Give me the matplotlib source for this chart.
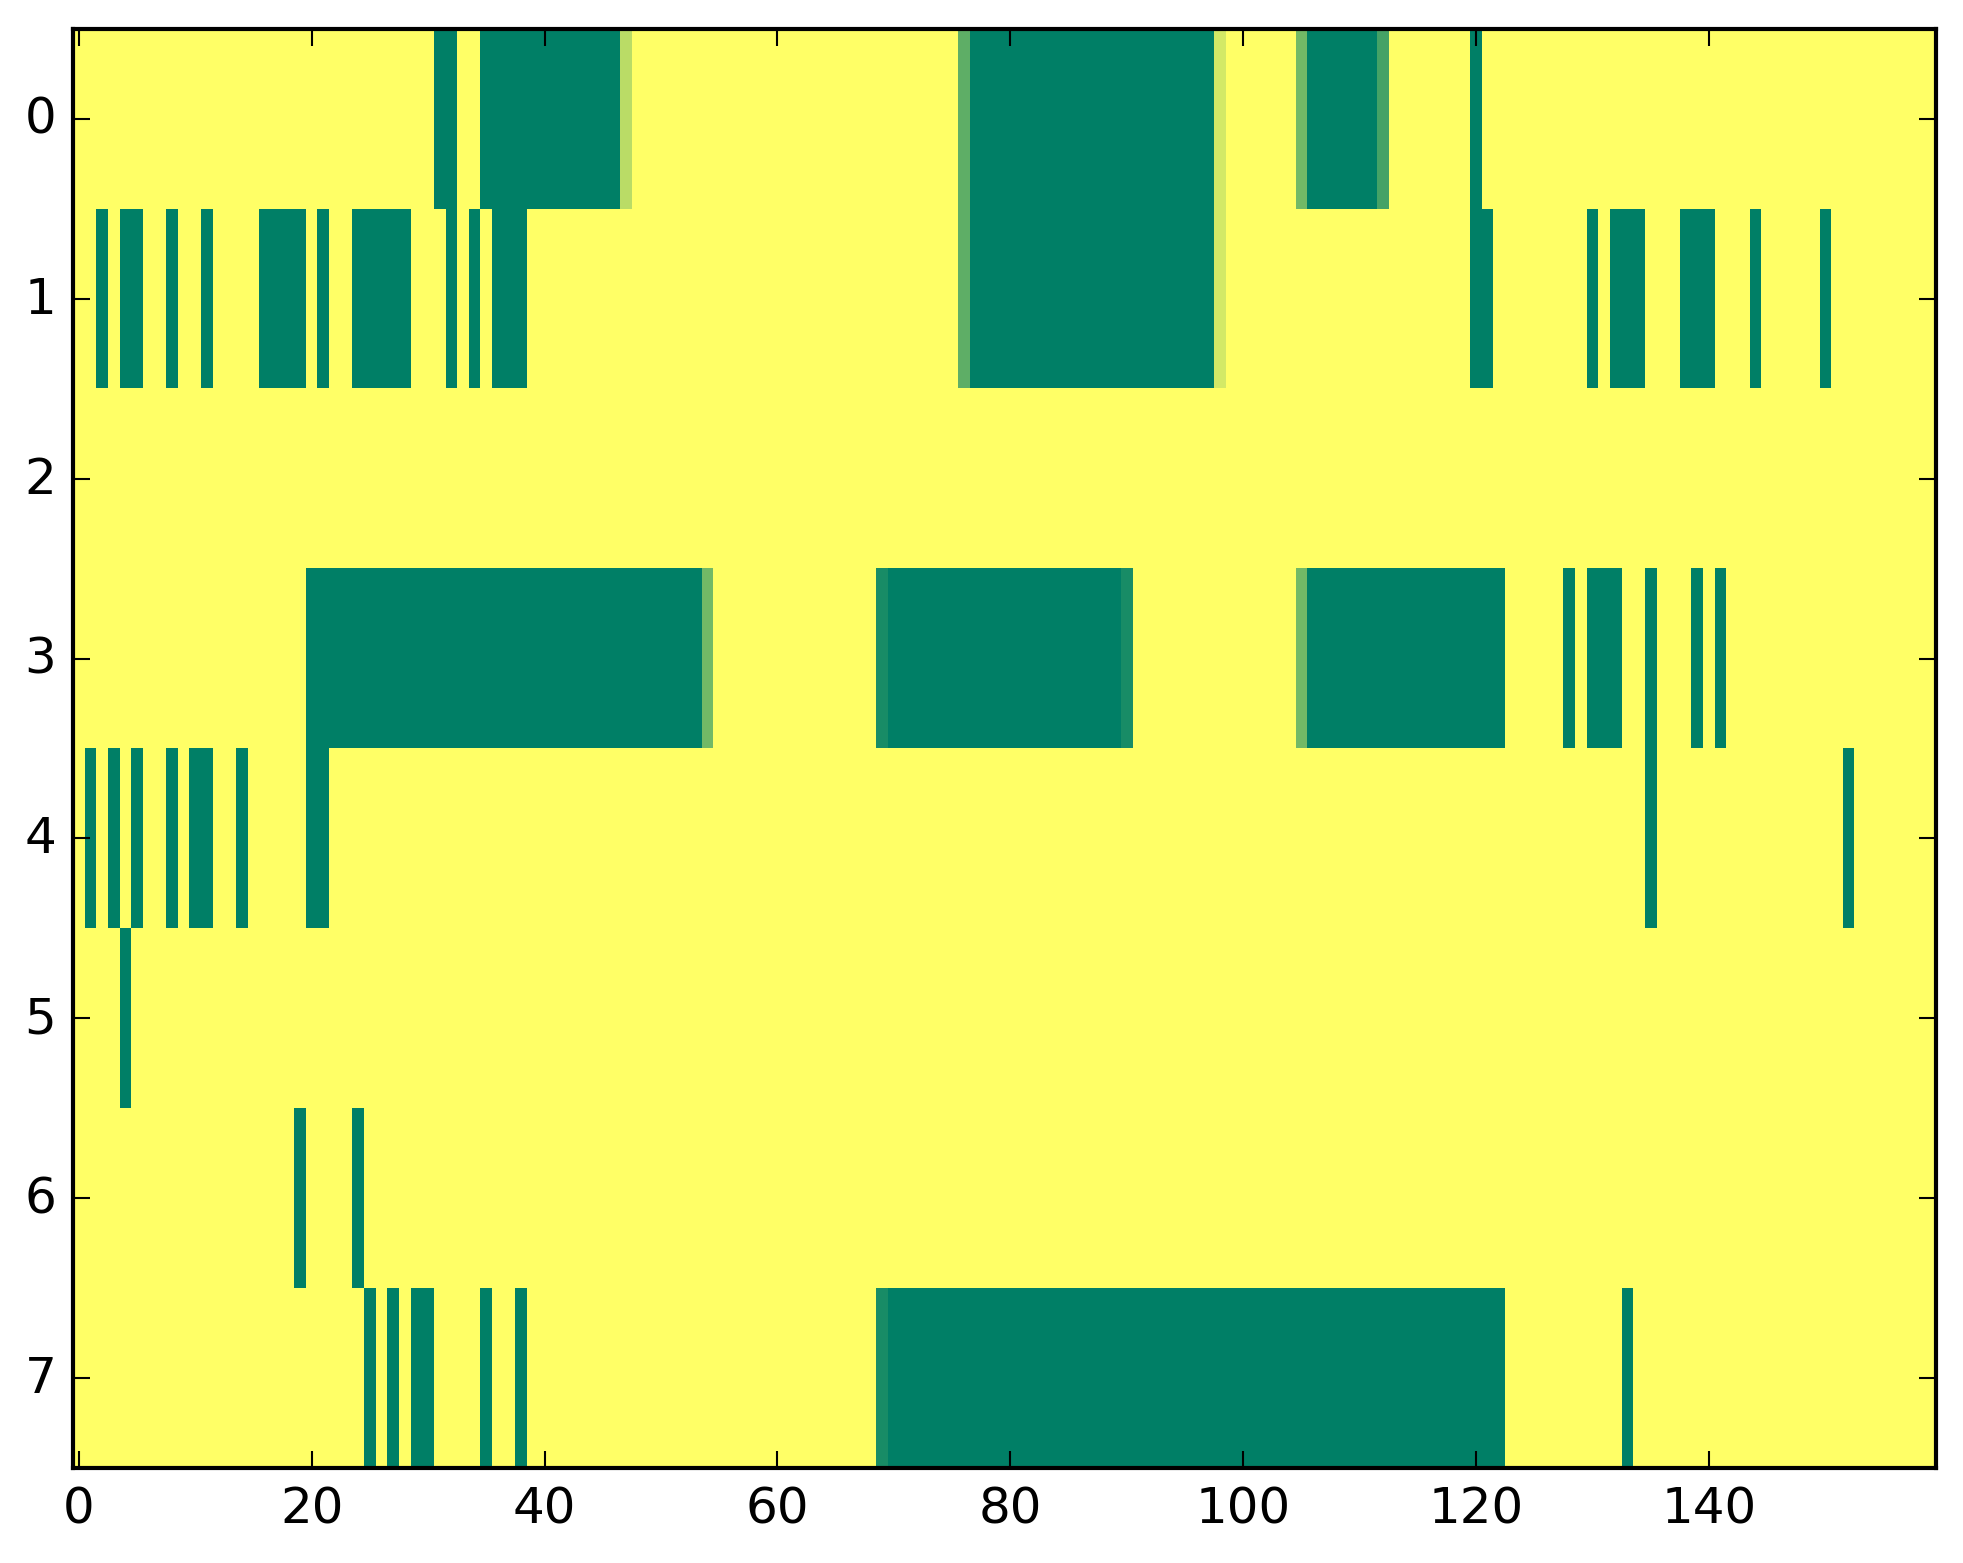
import numpy as np
import matplotlib
matplotlib.use('Agg')
from matplotlib import pyplot as plt

plt.style.use('classic')

n_rows = 8
n_cols = 160

# columns that are fully "on" in each row, as (first, last) runs
row0_runs = [(31, 32), (35, 46), (77, 97), (106, 111), (120, 120)]
row1_runs = [(2, 2), (4, 5), (8, 8), (11, 11), (16, 19), (21, 21), (24, 28),
             (32, 32), (34, 34), (36, 38), (77, 97), (120, 121), (130, 130),
             (132, 134), (138, 140), (144, 144), (150, 150)]
row2_runs = []
row3_runs = [(20, 53), (70, 89), (106, 122), (128, 128), (130, 132),
             (135, 135), (139, 139), (141, 141)]
row4_runs = [(1, 1), (3, 3), (5, 5), (8, 8), (10, 11), (14, 14), (20, 21),
             (135, 135), (152, 152)]
row5_runs = [(4, 4)]
row6_runs = [(19, 19), (24, 24)]
row7_runs = [(25, 25), (27, 27), (29, 30), (35, 35), (38, 38), (70, 122),
             (133, 133)]

# cells with in-between values (row, col, value)
partial_cells = [(0, 47, 0.27), (0, 76, 0.63), (0, 98, 0.17), (0, 105, 0.55),
                 (0, 112, 0.73), (1, 76, 0.63), (1, 98, 0.17),
                 (3, 54, 0.55), (3, 69, 0.9), (3, 90, 0.9), (3, 105, 0.55),
                 (7, 69, 0.9)]

all_runs = [row0_runs, row1_runs, row2_runs, row3_runs,
            row4_runs, row5_runs, row6_runs, row7_runs]

grid = np.zeros((n_rows, n_cols))
for r, runs in enumerate(all_runs):
    for a, b in runs:
        grid[r, a:b + 1] = 1.0
for r, c, v in partial_cells:
    grid[r, c] = v

# axes box in pixels (left, right, top, bottom)
L, R, T, B = 73, 1936, 30, 1469
fig = plt.figure(figsize=(1963 / 300, 1564 / 300), dpi=300, facecolor='white')
ax = fig.add_axes([L / 1963, 1 - B / 1564, (R - L) / 1963, (B - T) / 1564])
ax.imshow(grid, cmap='summer_r', vmin=0, vmax=1, aspect='auto',
          interpolation='nearest')
ax.set_xticks(np.arange(0, 141, 20))
ax.set_yticks(np.arange(0, 8))

fig.savefig('out.png', dpi=300, facecolor='white')
